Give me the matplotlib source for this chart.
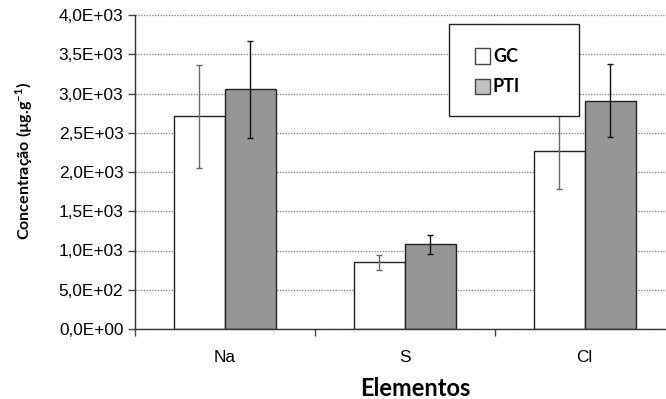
import matplotlib
matplotlib.use("Agg")
import matplotlib.pyplot as plt
from matplotlib.patches import Rectangle
import numpy as np

plt.rcParams['mathtext.fontset'] = 'custom'
plt.rcParams['mathtext.rm'] = 'Lato'
plt.rcParams['mathtext.bf'] = 'Lato:bold'

categories = ["Na", "S", "Cl"]
series_names = ["GC", "PTI"]
gc_values = [2710, 849, 2268]
gc_errors = [655, 98, 480]
pti_values = [3053, 1079, 2908]
pti_errors = [620, 120, 467]
yticks = [0, 500, 1000, 1500, 2000, 2500, 3000, 3500, 4000]
ytick_labels = ["0,0E+00", "5,0E+02", "1,0E+03", "1,5E+03", "2,0E+03",
                "2,5E+03", "3,0E+03", "3,5E+03", "4,0E+03"]

W, H = 666, 399
fig = plt.figure(figsize=(W / 100, H / 100), dpi=100)
ax = fig.add_axes([134.5 / W, 70 / H, 540 / W, 314 / H])

x = np.arange(len(categories))
bw = 51 / 180
gc_color = "white"
pti_color = "#969696"

ax.bar(x - bw / 2, gc_values, bw, color=gc_color, edgecolor="#222222", linewidth=1.0, zorder=3)
ax.bar(x + bw / 2, pti_values, bw, color=pti_color, edgecolor="#222222", linewidth=1.0, zorder=3)
ax.errorbar(x - bw / 2, gc_values, yerr=gc_errors, fmt="none", ecolor="#666666",
            elinewidth=1.0, capsize=2.2, capthick=1.0, zorder=4)
ax.errorbar(x + bw / 2, pti_values, yerr=pti_errors, fmt="none", ecolor="#111111",
            elinewidth=1.0, capsize=2.2, capthick=1.0, zorder=4)

ax.set_xlim(-0.5, len(categories) - 0.5)
ax.set_ylim(0, 4000)
ax.set_yticks(yticks)
ax.set_yticklabels(ytick_labels, fontfamily="Liberation Sans", fontsize=12.4)
ax.set_xticks(x)
ax.set_xticklabels(categories, fontfamily="Liberation Sans", fontsize=12.4)
ax.tick_params(axis="x", length=0, pad=15)
ax.set_xticks(np.arange(len(categories) + 1) - 0.5, minor=True)
ax.tick_params(axis="x", which="minor", length=5, width=1, color="#444444")
ax.tick_params(axis="y", length=5, width=1, color="#444444", pad=3)
ax.yaxis.grid(True, linestyle=(0, (1, 1)), color="#8c8c8c", linewidth=1.0, zorder=0)
ax.set_axisbelow(True)
for s in ["top", "right"]:
    ax.spines[s].set_visible(False)
for s in ["left", "bottom"]:
    ax.spines[s].set_color("#333333")
    ax.spines[s].set_linewidth(1.0)
    ax.spines[s].set_zorder(5)

fig.text(24 / W, 1 - 161 / H, r"Concentração (µg.g$^{\mathbf{-1}}$)", rotation=90,
         ha="center", va="center", fontfamily="Lato", fontweight="bold", fontsize=11.5)
fig.text(415 / W, 1 - 396.5 / H, "Elementos", ha="center", va="baseline",
         fontfamily="Lato", fontweight="bold", fontsize=17)

# legend box
fig.add_artist(Rectangle((449 / W, 1 - 116 / H), 130 / W, 92 / H, transform=fig.transFigure,
                         facecolor="white", edgecolor="#222222", linewidth=1.0, zorder=10))
leg_colors = ["white", "#c0c0c0"]
leg_y = [56, 86]
for name, c, yy in zip(series_names, leg_colors, leg_y):
    fig.add_artist(Rectangle((474.5 / W, 1 - (yy + 7.5) / H), 15.5 / W, 15 / H,
                             transform=fig.transFigure, facecolor=c, edgecolor="#444444",
                             linewidth=1.0, zorder=11))
    fig.text(493 / W, 1 - (yy + 1) / H, name, ha="left", va="center", fontfamily="Lato",
             fontweight="bold", fontsize=13, zorder=12)

fig.savefig("out.png", dpi=100)
